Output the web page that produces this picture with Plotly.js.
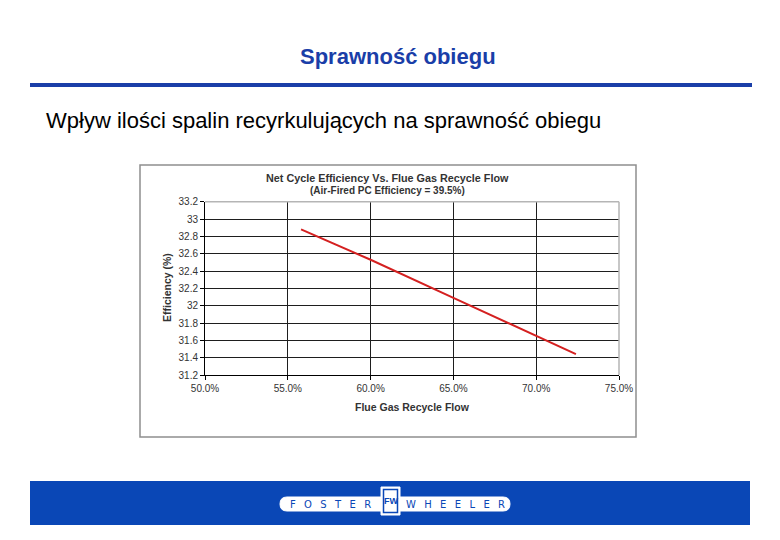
<!DOCTYPE html>
<html>
<head>
<meta charset="utf-8">
<script src="https://cdn.plot.ly/plotly-3.0.1.min.js"></script>
<style>
  html, body { margin: 0; padding: 0; background: #ffffff; }
  #chart { width: 780px; height: 540px; }
</style>
</head>
<body>
<div id="chart"></div>
<script>
// ---- data ----
const flow = [0.558, 0.60, 0.65, 0.70, 0.724];          // Flue gas recycle flow (fraction)
const efficiency = [32.88, 32.53, 32.09, 31.65, 31.44];  // Net cycle efficiency (%)
const xTickVals = [0.50, 0.55, 0.60, 0.65, 0.70, 0.75];
const yTickVals = [31.2, 31.4, 31.6, 31.8, 32.0, 32.2, 32.4, 32.6, 32.8, 33.0, 33.2];
const yTickText = ['31.2', '31.4', '31.6', '31.8', '32', '32.2', '32.4', '32.6', '32.8', '33', '33.2'];

const pageTitle = 'Sprawność obiegu';
const pageSubtitle = 'Wpływ ilości spalin recyrkulujących na sprawność obiegu';
const chartTitle = 'Net Cycle Efficiency Vs. Flue Gas Recycle Flow';
const chartSubtitle = '(Air-Fired PC Efficiency = 39.5%)';
const xTitle = 'Flue Gas Recycle Flow';
const yTitle = 'Efficiency (%)';
const logoLeft = 'FOSTER';
const logoRight = 'WHEELER';

// ---- pixel helpers (figure is 780 x 540, zero margins) ----
const W = 780, H = 540;
const px = x => x / W;
const py = y => 1 - y / H;

const FONT = 'Liberation Sans, Arial, sans-serif';
const BLUE = '#1a3ea8';
const FOOT = '#0a47b6';

function rect(x0, y0, x1, y1, opts) {
  return Object.assign({type: 'rect', xref: 'paper', yref: 'paper',
    x0: px(x0), x1: px(x1), y0: py(y1), y1: py(y0), layer: 'below'}, opts);
}
function pill(x0, y0, x1, y1) {
  const r = (y1 - y0) / 2;
  const P = (x, y) => px(x) + ',' + py(y);
  return 'M' + P(x0 + r, y0) + ' L' + P(x1 - r, y0) +
    ' Q' + P(x1, y0) + ' ' + P(x1, y0 + r) +
    ' Q' + P(x1, y1) + ' ' + P(x1 - r, y1) +
    ' L' + P(x0 + r, y1) +
    ' Q' + P(x0, y1) + ' ' + P(x0, y0 + r) +
    ' Q' + P(x0, y0) + ' ' + P(x0 + r, y0) + ' Z';
}
function spaced(s) { return s.split('').join('\u00A0\u00A0\u2009'); }

const trace = {
  x: flow, y: efficiency, type: 'scatter', mode: 'lines',
  line: {color: '#d42020', width: 2}, hoverinfo: 'x+y', showlegend: false
};

const shapes = [
  rect(30, 83, 752, 87, {fillcolor: BLUE, line: {width: 0}}),
  rect(140, 165, 636, 437, {fillcolor: '#ffffff', line: {color: '#8f8f8f', width: 1.5}}),
  rect(30, 481, 750, 525, {fillcolor: FOOT, line: {width: 0}}),
  {type: 'path', xref: 'paper', yref: 'paper', path: pill(280, 497, 510, 511),
   fillcolor: '#ffffff', line: {color: '#ffffff', width: 1}, layer: 'above'},
  rect(381, 487, 400, 515, {fillcolor: '#ffffff', line: {color: '#ffffff', width: 1}, layer: 'above'}),
  rect(383.5, 489.5, 397.5, 512.5, {fillcolor: '#ffffff', line: {color: FOOT, width: 1.5}, layer: 'above'}),
  // light top / right frame of plot area
  {type: 'line', xref: 'paper', yref: 'paper', x0: px(205), x1: px(619), y0: py(201.7), y1: py(201.7),
   line: {color: '#b5b5b5', width: 1.5}, layer: 'above'},
  {type: 'line', xref: 'paper', yref: 'paper', x0: px(619), x1: px(619), y0: py(201.7), y1: py(375),
   line: {color: '#b5b5b5', width: 1.5}, layer: 'above'}
];

const annotations = [
  {text: '<b>' + pageTitle + '</b>', x: px(398), y: py(57), xref: 'paper', yref: 'paper',
   xanchor: 'center', yanchor: 'middle', showarrow: false, font: {family: FONT, size: 22, color: BLUE}},
  {text: pageSubtitle, x: px(44), y: py(120), xref: 'paper', yref: 'paper',
   xanchor: 'left', yanchor: 'middle', showarrow: false, font: {family: FONT, size: 22, color: '#000000'}},
  {text: '<b>' + chartTitle + '</b>', x: px(387), y: py(177.5), xref: 'paper', yref: 'paper',
   xanchor: 'center', yanchor: 'middle', showarrow: false, font: {family: FONT, size: 10.8, color: '#333333'}},
  {text: '<b>' + chartSubtitle + '</b>', x: px(387), y: py(191), xref: 'paper', yref: 'paper',
   xanchor: 'center', yanchor: 'middle', showarrow: false, font: {family: FONT, size: 10, color: '#333333'}},
  {text: '<b>' + xTitle + '</b>', x: px(412), y: py(407), xref: 'paper', yref: 'paper',
   xanchor: 'center', yanchor: 'middle', showarrow: false, font: {family: FONT, size: 10.5, color: '#333333'}},
  {text: '<b>' + yTitle + '</b>', x: px(167), y: py(288), xref: 'paper', yref: 'paper', textangle: -90,
   xanchor: 'center', yanchor: 'middle', showarrow: false, font: {family: FONT, size: 10.5, color: '#333333'}},
  {text: spaced(logoLeft), x: px(330), y: py(504), xref: 'paper', yref: 'paper',
   xanchor: 'center', yanchor: 'middle', showarrow: false, font: {family: 'DejaVu Sans, sans-serif', size: 10, color: FOOT}},
  {text: spaced(logoRight), x: px(455), y: py(504), xref: 'paper', yref: 'paper',
   xanchor: 'center', yanchor: 'middle', showarrow: false, font: {family: 'DejaVu Sans, sans-serif', size: 10, color: FOOT}},
  {text: '<b>FW</b>', x: px(390.5), y: py(501), xref: 'paper', yref: 'paper',
   xanchor: 'center', yanchor: 'middle', showarrow: false, font: {family: FONT, size: 9, color: FOOT}}
];

const layout = {
  width: W, height: H,
  margin: {l: 0, r: 0, t: 0, b: 0},
  paper_bgcolor: '#ffffff', plot_bgcolor: '#ffffff',
  showlegend: false,
  xaxis: {
    domain: [px(205), px(619)], range: [0.5, 0.75],
    tickvals: xTickVals, tickformat: '.1%',
    showgrid: true, gridcolor: '#1e1e1e', gridwidth: 1,
    showline: true, linecolor: '#000000', linewidth: 1,
    ticks: 'outside', ticklen: 4, tickcolor: '#000000',
    zeroline: false, fixedrange: true,
    tickfont: {family: FONT, size: 10, color: '#333333'}
  },
  yaxis: {
    domain: [py(375), py(201.7)], range: [31.2, 33.2],
    tickvals: yTickVals, ticktext: yTickText,
    showgrid: true, gridcolor: '#1e1e1e', gridwidth: 1,
    showline: true, linecolor: '#000000', linewidth: 1,
    ticks: 'outside', ticklen: 4, tickcolor: '#000000',
    zeroline: false, fixedrange: true,
    tickfont: {family: FONT, size: 10, color: '#333333'}
  },
  shapes: shapes,
  annotations: annotations
};

Plotly.newPlot('chart', [trace], layout, {displayModeBar: false, staticPlot: true});
</script>
</body>
</html>
